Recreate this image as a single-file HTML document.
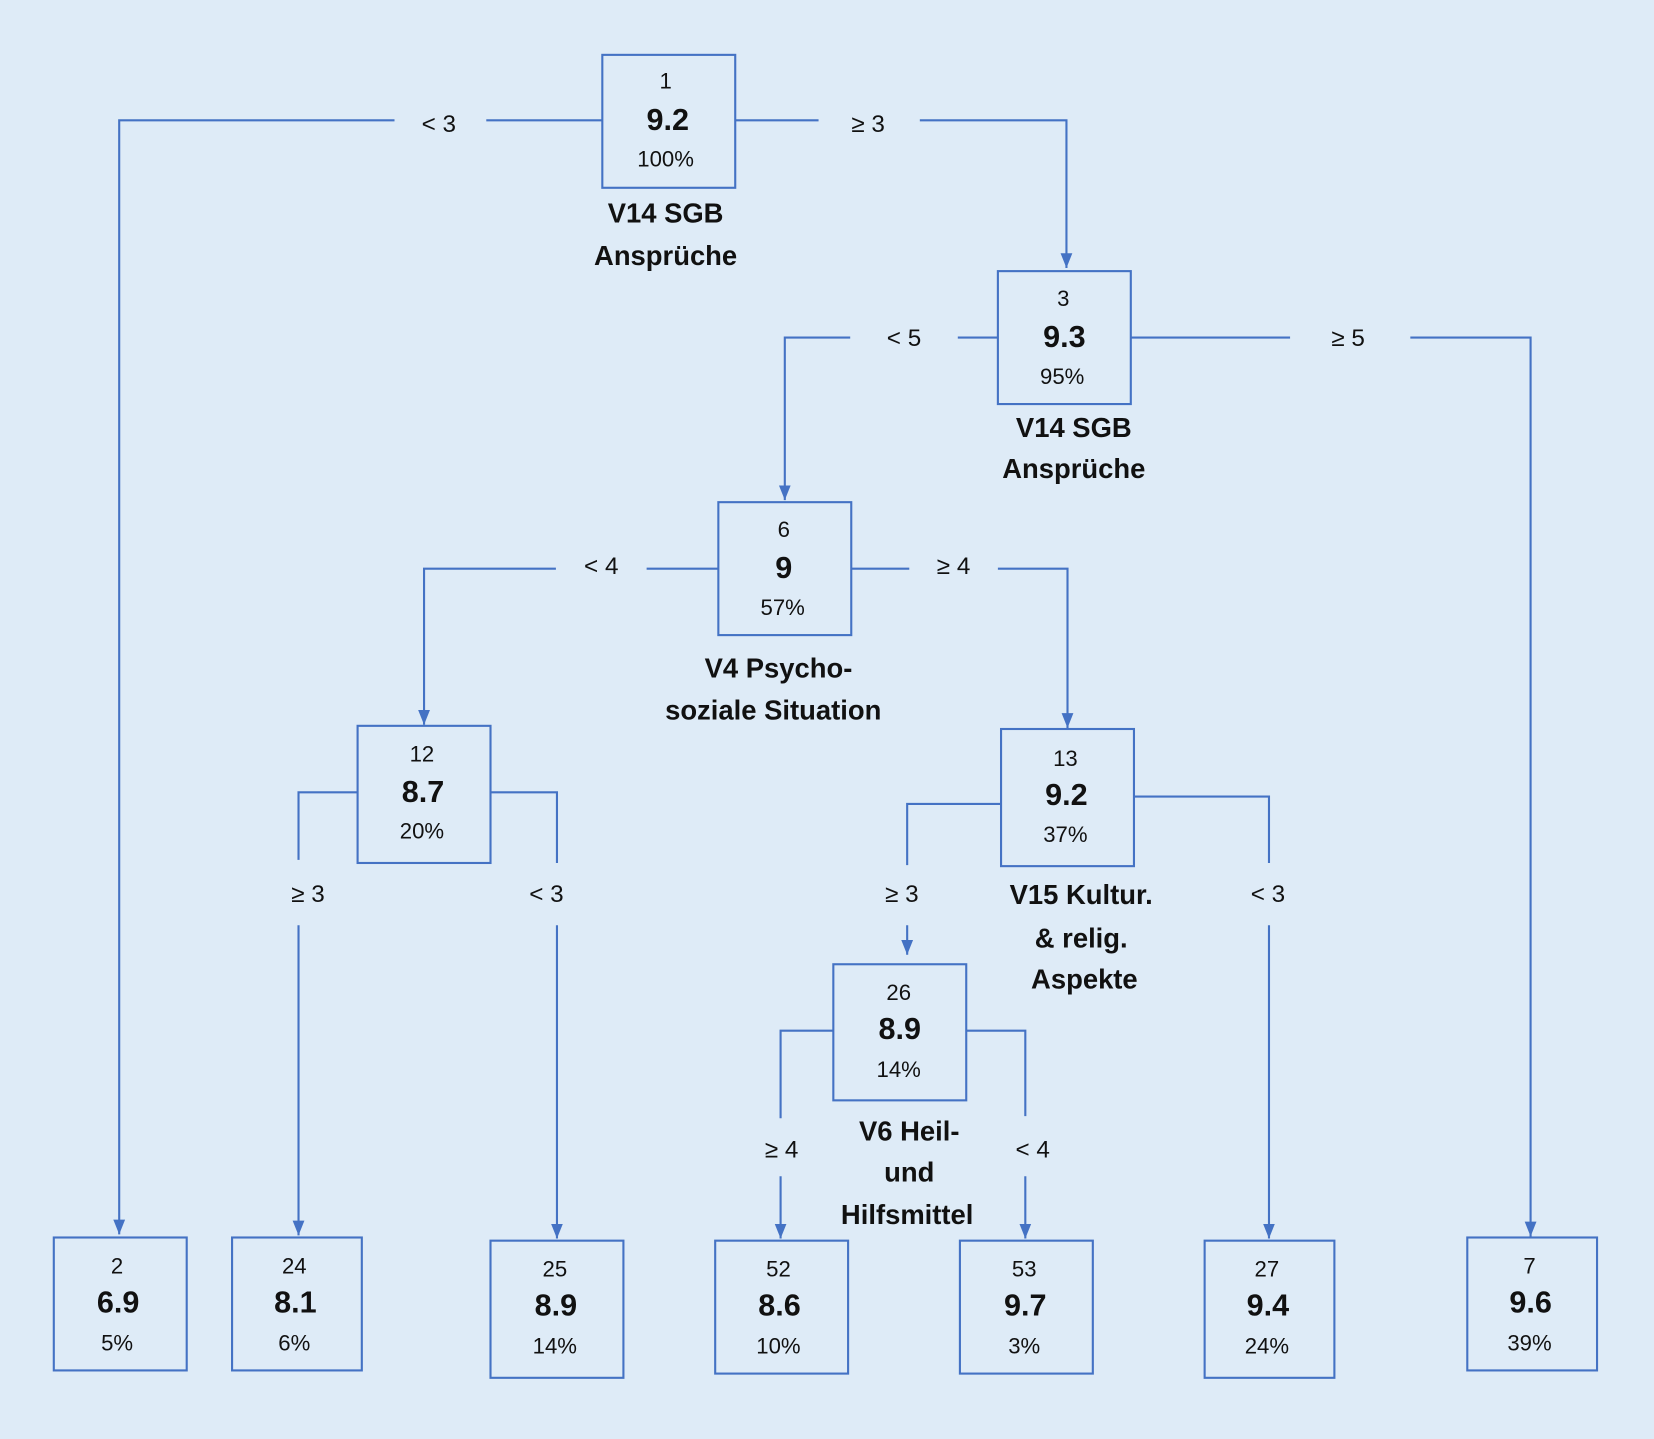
<!DOCTYPE html>
<html><head><meta charset="utf-8"><style>
html,body{margin:0;padding:0;background:#deebf7;}
svg{display:block;}
text{font-family:"Liberation Sans",sans-serif;fill:#111;text-anchor:middle;}
.n{font-size:21px;}
.v{font-size:29px;font-weight:bold;}
.l{font-size:26px;font-weight:bold;}
.e{font-size:23px;}
</style></head><body>
<svg width="1654" height="1439" viewBox="0 0 1568 1364" preserveAspectRatio="none" xmlns="http://www.w3.org/2000/svg">
<defs><marker id="a" viewBox="0 0 10 10" refX="9" refY="5" markerWidth="7" markerHeight="7" markerUnits="userSpaceOnUse" orient="auto"><path d="M0,0L10,5L0,10z" fill="#4472c4"/></marker>
<marker id="b" viewBox="0 0 10 10" refX="10" refY="5" markerWidth="14" markerHeight="14" markerUnits="userSpaceOnUse" orient="auto"><path d="M0,1L10,5L0,9z" fill="#4472c4"/></marker></defs>
<rect width="1568" height="1364" fill="#deebf7"/>
<g fill="none" stroke="#4472c4" stroke-width="2">
<path d="M571,114H461M374,114H113V1170" marker-end="url(#b)"/>
<path d="M697,114H776M872,114H1011V254" marker-end="url(#b)"/>
<path d="M946,320H908M806,320H744V474" marker-end="url(#b)"/>
<path d="M1072,320H1223M1337,320H1451V1172" marker-end="url(#b)"/>
<path d="M681,539H613M527,539H402V687" marker-end="url(#b)"/>
<path d="M807,539H862M946,539H1012V690" marker-end="url(#b)"/>
<path d="M339,751H283V815M283,877V1171" marker-end="url(#b)"/>
<path d="M465,751H528V818M528,877V1174" marker-end="url(#b)"/>
<path d="M949,762H860V820M860,877V905" marker-end="url(#b)"/>
<path d="M1075,755H1203V818M1203,877V1174" marker-end="url(#b)"/>
<path d="M790,977H740V1060M740,1115V1174" marker-end="url(#b)"/>
<path d="M916,977H972V1058M972,1115V1174" marker-end="url(#b)"/>
<rect x="571" y="52" width="126" height="126"/>
<rect x="946" y="257" width="126" height="126"/>
<rect x="681" y="476" width="126" height="126"/>
<rect x="339" y="688" width="126" height="130"/>
<rect x="949" y="691" width="126" height="130"/>
<rect x="790" y="914" width="126" height="129"/>
<rect x="51" y="1173" width="126" height="126"/>
<rect x="220" y="1173" width="123" height="126"/>
<rect x="465" y="1176" width="126" height="130"/>
<rect x="678" y="1176" width="126" height="126"/>
<rect x="910" y="1176" width="126" height="126"/>
<rect x="1142" y="1176" width="123" height="130"/>
<rect x="1391" y="1173" width="123" height="126"/>
</g>
<g>
<text class="n" x="631" y="84">1</text><text class="v" x="633" y="123">9.2</text><text class="n" x="631" y="158">100%</text>
<text class="n" x="1008" y="290">3</text><text class="v" x="1009" y="329">9.3</text><text class="n" x="1007" y="364">95%</text>
<text class="n" x="743" y="509">6</text><text class="v" x="743" y="548">9</text><text class="n" x="742" y="583">57%</text>
<text class="n" x="400" y="722">12</text><text class="v" x="401" y="760">8.7</text><text class="n" x="400" y="795">20%</text>
<text class="n" x="1010" y="726">13</text><text class="v" x="1011" y="763">9.2</text><text class="n" x="1010" y="798">37%</text>
<text class="n" x="852" y="948">26</text><text class="v" x="853" y="985">8.9</text><text class="n" x="852" y="1021">14%</text>
<text class="n" x="111" y="1207">2</text><text class="v" x="112" y="1244">6.9</text><text class="n" x="111" y="1280">5%</text>
<text class="n" x="279" y="1207">24</text><text class="v" x="280" y="1244">8.1</text><text class="n" x="279" y="1280">6%</text>
<text class="n" x="526" y="1210">25</text><text class="v" x="527" y="1247">8.9</text><text class="n" x="526" y="1283">14%</text>
<text class="n" x="738" y="1210">52</text><text class="v" x="739" y="1247">8.6</text><text class="n" x="738" y="1283">10%</text>
<text class="n" x="971" y="1210">53</text><text class="v" x="972" y="1247">9.7</text><text class="n" x="971" y="1283">3%</text>
<text class="n" x="1201" y="1210">27</text><text class="v" x="1202" y="1247">9.4</text><text class="n" x="1201" y="1283">24%</text>
<text class="n" x="1450" y="1207">7</text><text class="v" x="1451" y="1244">9.6</text><text class="n" x="1450" y="1280">39%</text>
<text class="l" x="631" y="211">V14 SGB</text><text class="l" x="631" y="251">Ansprüche</text>
<text class="l" x="1018" y="414">V14 SGB</text><text class="l" x="1018" y="453">Ansprüche</text>
<text class="l" x="738" y="642">V4 Psycho-</text><text class="l" x="733" y="682">soziale Situation</text>
<text class="l" x="1025" y="857">V15 Kultur.</text><text class="l" x="1025" y="898">&amp; relig.</text><text class="l" x="1028" y="937">Aspekte</text>
<text class="l" x="862" y="1081">V6 Heil-</text><text class="l" x="862" y="1120">und</text><text class="l" x="860" y="1160">Hilfsmittel</text>
<text class="e" x="416" y="125">&lt; 3</text><text class="e" x="823" y="125">≥ 3</text>
<text class="e" x="857" y="328">&lt; 5</text><text class="e" x="1278" y="328">≥ 5</text>
<text class="e" x="570" y="544">&lt; 4</text><text class="e" x="904" y="544">≥ 4</text>
<text class="e" x="292" y="855">≥ 3</text><text class="e" x="518" y="855">&lt; 3</text>
<text class="e" x="855" y="855">≥ 3</text><text class="e" x="1202" y="855">&lt; 3</text>
<text class="e" x="741" y="1097">≥ 4</text><text class="e" x="979" y="1097">&lt; 4</text>
</g>
</svg>
</body></html>
